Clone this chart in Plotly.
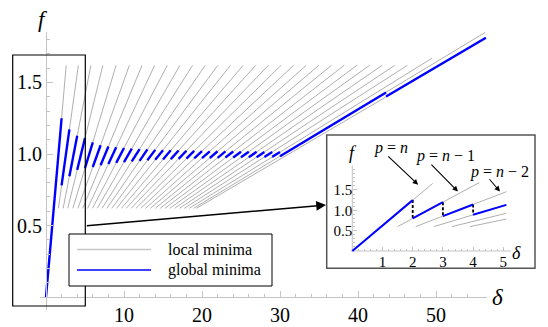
import plotly.graph_objects as go

W, H = 548, 327

# local minima: straight pieces f(delta), one per p (start / end points)
gray_d0 = [0.99, 1.59, 2.20, 2.79, 3.44, 4.09, 4.71, 5.33, 5.95, 6.57, 7.19, 7.81, 8.43, 9.05, 9.67,
           10.29, 10.91, 11.53, 12.15, 12.77, 13.39, 14.01, 14.63, 15.25, 15.87, 16.49, 17.11, 17.73,
           18.35, 18.91, 19.28]
gray_f0 = [0.62, 0.62, 0.62, 0.62, 0.62, 0.62, 0.62, 0.62, 0.62, 0.62, 0.62, 0.62, 0.62, 0.62, 0.62,
           0.62, 0.62, 0.62, 0.62, 0.62, 0.62, 0.62, 0.62, 0.62, 0.62, 0.62, 0.62, 0.62,
           0.62, 0.62, 0.62]
gray_d1 = [2.59, 4.15, 5.75, 7.29, 8.99, 10.69, 12.31, 13.93, 15.55, 17.17, 18.79, 20.41, 22.03, 23.65,
           25.27, 26.89, 28.51, 30.13, 31.75, 33.37, 34.99, 36.61, 38.23, 39.85, 41.47, 43.09, 44.71,
           46.33, 49.5, 56.3, 56.4]
gray_f1 = [1.62, 1.62, 1.62, 1.62, 1.62, 1.62, 1.62, 1.62, 1.62, 1.62, 1.62, 1.62, 1.62, 1.62, 1.62,
           1.62, 1.62, 1.62, 1.62, 1.62, 1.62, 1.62, 1.62, 1.62, 1.62, 1.62, 1.62, 1.62,
           1.67, 1.85, 1.81]

# global minima pieces
blue_d0 = [0, 2, 3, 4, 5, 6, 7, 8, 9, 10, 11, 12, 13, 14, 15, 16, 17, 18, 19, 20, 21, 22, 23, 24, 25,
           26, 27, 28, 29, 30, 43.6]
blue_f0 = [0, 0.781, 0.845, 0.889, 0.901, 0.909, 0.921, 0.930, 0.938, 0.943, 0.948, 0.952, 0.956,
           0.959, 0.962, 0.964, 0.966, 0.968, 0.969, 0.971, 0.972, 0.973, 0.975, 0.976, 0.977, 0.977,
           0.978, 0.979, 0.980, 0.984, 1.402]
blue_d1 = [2, 3, 4, 5, 6, 7, 8, 9, 10, 11, 12, 13, 14, 15, 16, 17, 18, 19, 20, 21, 22, 23, 24, 25, 26,
           27, 28, 29, 30, 43.6, 56.4]
blue_f1 = [1.25, 1.172, 1.127, 1.111, 1.081, 1.061, 1.053, 1.047, 1.042, 1.038, 1.034, 1.032, 1.029,
           1.027, 1.026, 1.024, 1.023, 1.022, 1.020, 1.019, 1.019, 1.018, 1.017, 1.016, 1.016, 1.015,
           1.014, 1.014, 1.014, 1.430, 1.813]

# inset (zoom on 0 < delta < 5)
in_gray_d0 = [0.96, 1.50, 2.10, 2.70, 3.30, 3.90]
in_gray_f0 = [0.60, 0.60, 0.60, 0.60, 0.60, 0.60]
in_gray_d1 = [2.66, 4.20, 5.10, 5.10, 5.10, 5.10]
in_gray_f1 = [1.66, 1.68, 1.457, 1.133, 0.927, 0.785]
in_blue_d0 = [0, 2, 3, 4]
in_blue_f0 = [0, 0.80, 0.857, 0.889]
in_blue_d1 = [2, 3, 4, 5.1]
in_blue_f1 = [1.25, 1.20, 1.143, 1.133]
jump_d = [2, 3, 4]
jump_hi = [1.25, 1.20, 1.143]
jump_lo = [0.80, 0.857, 0.889]

main_xticks = [10, 20, 30, 40, 50]
main_yticks = [0.5, 1.0, 1.5]
in_xticks = [1, 2, 3, 4, 5]
in_yticks = [0.5, 1.0, 1.5]

FONT = "Liberation Serif"
AXC = "#c4c4c4"


def segs(d0, f0, d1, f1):
    xs, ys = [], []
    for a, b, c, e in zip(d0, f0, d1, f1):
        xs += [a, c, None]
        ys += [b, e, None]
    return xs, ys


def px(x):
    return x / W


def py(y):
    return 1 - y / H


fig = go.Figure()

gx, gy = segs(gray_d0, gray_f0, gray_d1, gray_f1)
fig.add_trace(go.Scatter(x=gx, y=gy, mode="lines", line=dict(color="#9a9a9a", width=0.8),
                         hoverinfo="skip", xaxis="x", yaxis="y"))
bx, by = segs(blue_d0, blue_f0, blue_d1, blue_f1)
fig.add_trace(go.Scatter(x=bx, y=by, mode="lines", line=dict(color="#0000ff", width=2.4),
                         hoverinfo="skip", xaxis="x", yaxis="y"))

# inset
fig.add_trace(go.Scatter(x=[-0.05, 5.25, None, 0, 0], y=[0, 0, None, 0, 2.1], mode="lines",
                         line=dict(color=AXC, width=1), hoverinfo="skip", xaxis="x2", yaxis="y2"))
ix, iy = segs(in_gray_d0, in_gray_f0, in_gray_d1, in_gray_f1)
fig.add_trace(go.Scatter(x=ix, y=iy, mode="lines", line=dict(color="#9a9a9a", width=0.8),
                         hoverinfo="skip", xaxis="x2", yaxis="y2"))
jx, jy = segs(jump_d, jump_hi, jump_d, jump_lo)
fig.add_trace(go.Scatter(x=jx, y=jy, mode="lines", line=dict(color="black", width=1.8, dash="3px,2px"),
                         hoverinfo="skip", xaxis="x2", yaxis="y2"))
ibx, iby = segs(in_blue_d0, in_blue_f0, in_blue_d1, in_blue_f1)
fig.add_trace(go.Scatter(x=ibx, y=iby, mode="lines", line=dict(color="#0000ff", width=2),
                         hoverinfo="skip", xaxis="x2", yaxis="y2"))

tickfont = dict(family=FONT, size=20, color="black")
small_tf = dict(family=FONT, size=15, color="black")

fig.update_layout(
    width=W, height=H, margin=dict(l=0, r=0, t=0, b=0),
    paper_bgcolor="white", plot_bgcolor="white", showlegend=False,
    xaxis=dict(domain=[px(40), px(487)], range=[-0.769, 56.538], anchor="free", position=py(297),
               showline=True, linecolor=AXC, linewidth=1, showgrid=False, zeroline=False,
               ticks="inside", ticklen=6, tickcolor=AXC, tickvals=main_xticks,
               ticktext=[str(v) for v in main_xticks], tickfont=tickfont,
               minor=dict(ticks="inside", ticklen=3, tickcolor=AXC,
                          tickvals=[2, 4, 6, 8, 12, 14, 16, 18, 22, 24, 26, 28, 32, 34, 36, 38,
                                    42, 44, 46, 48, 52, 54])),
    yaxis=dict(domain=[py(310), py(32)], range=[-0.0909, 1.8531], anchor="free", position=px(46),
               showline=True, linecolor=AXC, linewidth=1, showgrid=False, zeroline=False,
               ticks="inside", ticklen=6, tickcolor=AXC, tickvals=main_yticks,
               ticktext=["0.5", "1.0", "1.5"], tickfont=tickfont,
               minor=dict(ticks="inside", ticklen=3, tickcolor=AXC,
                          tickvals=[0.1, 0.2, 0.3, 0.4, 0.6, 0.7, 0.8, 0.9, 1.1, 1.2, 1.3, 1.4,
                                    1.6, 1.7, 1.8])),
    xaxis2=dict(domain=[px(326.7), px(535)], range=[-0.848, 6.049], anchor="free", position=py(251),
                showline=False, showgrid=False, zeroline=False, ticks="inside", ticklen=4,
                tickcolor=AXC, tickvals=in_xticks, ticktext=[str(v) for v in in_xticks],
                tickfont=small_tf,
                minor=dict(ticks="inside", ticklen=2, tickcolor=AXC,
                           tickvals=[0.2, 0.4, 0.6, 0.8, 1.2, 1.4, 1.6, 1.8, 2.2, 2.4, 2.6, 2.8,
                                     3.2, 3.4, 3.6, 3.8, 4.2, 4.4, 4.6, 4.8])),
    yaxis2=dict(domain=[py(268.3), py(135)], range=[-0.425, 2.85], anchor="free", position=px(352.3),
                showline=False, showgrid=False, zeroline=False, ticks="inside", ticklen=4,
                tickcolor=AXC, tickvals=in_yticks, ticktext=["0.5", "1.0", "1.5"],
                tickfont=small_tf,
                minor=dict(ticks="inside", ticklen=2, tickcolor=AXC,
                           tickvals=[0.1, 0.2, 0.3, 0.4, 0.6, 0.7, 0.8, 0.9, 1.1, 1.2, 1.3, 1.4,
                                     1.6, 1.7, 1.8, 1.9, 2.0])),
)

shapes = [
    # zoom window on the main plot
    dict(type="rect", xref="paper", yref="paper", x0=px(12.7), x1=px(85.3), y0=py(306), y1=py(55),
         line=dict(color="black", width=1.2), layer="above"),
    # inset frame
    dict(type="rect", xref="x2 domain", yref="y2 domain", x0=0, x1=1, y0=0, y1=1,
         line=dict(color="#555555", width=1.5), layer="above"),
    # legend
    dict(type="rect", xref="paper", yref="paper", x0=px(69), x1=px(272), y0=py(286), y1=py(234),
         fillcolor="white", line=dict(color="black", width=1), layer="above"),
    dict(type="line", xref="paper", yref="paper", x0=px(77), x1=px(151), y0=py(249.5), y1=py(249.5),
         line=dict(color="#c8c8c8", width=1.5), layer="above"),
    dict(type="line", xref="paper", yref="paper", x0=px(77), x1=px(151), y0=py(270), y1=py(270),
         line=dict(color="#0000ff", width=1.5), layer="above"),
]

annotations = [
    dict(xref="paper", yref="paper", x=px(166), y=py(249.5), text="local minima", showarrow=False,
         xanchor="left", yanchor="middle", font=dict(family=FONT, size=16, color="black")),
    dict(xref="paper", yref="paper", x=px(166), y=py(270), text="global minima", showarrow=False,
         xanchor="left", yanchor="middle", font=dict(family=FONT, size=16, color="black")),
    dict(xref="paper", yref="paper", x=px(43), y=py(19), text="<i>f</i>", showarrow=False,
         xanchor="center", yanchor="middle", font=dict(family=FONT, size=23, color="black")),
    dict(xref="paper", yref="paper", x=px(497), y=py(297), text="<i>δ</i>", showarrow=False,
         xanchor="center", yanchor="middle", font=dict(family=FONT, size=23, color="black")),
    # link from zoom window to inset
    dict(xref="paper", yref="paper", axref="pixel", ayref="pixel", x=px(326), y=py(205),
         ax=85.3 - 326, ay=226 - 205, text="", showarrow=True, arrowhead=2, arrowsize=1.3,
         arrowwidth=1.5, arrowcolor="black"),
    # inset labels
    dict(xref="x2", yref="y2", x=0.02, y=2.41, text="<i>f</i>", showarrow=False,
         font=dict(family=FONT, size=18, color="black")),
    dict(xref="x2", yref="y2", x=5.42, y=-0.04, text="<i>δ</i>", showarrow=False,
         font=dict(family=FONT, size=18, color="black")),
    dict(xref="x2", yref="y2", x=1.265, y=2.53, text="<i>p</i> = <i>n</i>", showarrow=False,
         font=dict(family=FONT, size=16, color="black")),
    dict(xref="x2", yref="y2", x=3.09, y=2.34, text="<i>p</i> = <i>n</i> − 1", showarrow=False,
         font=dict(family=FONT, size=16, color="black")),
    dict(xref="x2", yref="y2", x=4.88, y=1.93, text="<i>p</i> = <i>n</i> − 2", showarrow=False,
         font=dict(family=FONT, size=16, color="black")),
    dict(xref="x2", yref="y2", axref="x2", ayref="y2", x=2.18, y=1.63, ax=1.14, ay=2.36, text="",
         showarrow=True, arrowhead=2, arrowsize=1, arrowwidth=1.1, arrowcolor="black"),
    dict(xref="x2", yref="y2", axref="x2", ayref="y2", x=3.5, y=1.46, ax=2.57, ay=2.16, text="",
         showarrow=True, arrowhead=2, arrowsize=1, arrowwidth=1.1, arrowcolor="black"),
    dict(xref="x2", yref="y2", axref="x2", ayref="y2", x=4.89, y=1.46, ax=4.5, ay=1.8, text="",
         showarrow=True, arrowhead=2, arrowsize=1, arrowwidth=1.1, arrowcolor="black"),
]

fig.update_layout(shapes=shapes, annotations=annotations)
# the page body has a default 8px margin; drop it so the figure sits at the window corner
fig.write_html("out.html", config={"displayModeBar": False},
               post_script="document.body.style.margin='0';")
